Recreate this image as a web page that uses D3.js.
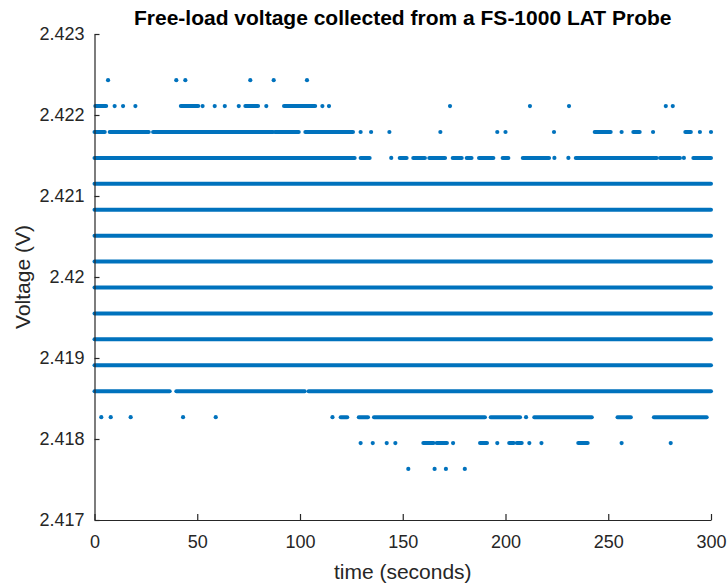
<!DOCTYPE html>
<html>
<head>
<meta charset="utf-8">
<script src="https://cdn.jsdelivr.net/npm/d3@7"></script>
<style>
  body { margin: 0; background: #fff; }
  text { font-family: "Liberation Sans", Arial, sans-serif; }
</style>
</head>
<body>
<div id="chart"></div>
<script>
// quantized voltage levels (V), lowest first
var levels = [2.41763, 2.41795, 2.41827, 2.41859, 2.41891, 2.41923, 2.41955, 2.41987,
              2.42019, 2.42051, 2.42083, 2.42115, 2.42147, 2.42179, 2.42211, 2.42243];

// time spans (seconds) where samples sit on each level; [t, t] is a lone sample
var runs = [
  [[152.7,152.7],[165.5,165.5],[171,171],[180.2,180.2]],
  [[129.5,129.5],[135.4,135.4],[142.2,142.2],[146.4,146.4],[160,165],[166.5,171.5],[174.5,174.5],
   [187.6,191],[196,196],[201.8,204],[205.5,207.9],[211.6,211.6],[217.5,217.5],[235.4,240],
   [256.5,256.5],[280.4,280.4]],
  [[3.3,3.3],[7.9,7.9],[17.6,17.6],[43.1,43.1],[59,59],[115.8,115.8],[119.8,123],[128.6,133.1],
   [136,190],[192.8,207.1],[210,210],[214,242],[254.5,261],[272.2,297.9]],
  [[0,36.6],[39.8,102.3],[104.2,300]],
  [[0,300]],
  [[0,300]],
  [[0,300]],
  [[0,300]],
  [[0,300]],
  [[0,300]],
  [[0,300]],
  [[0,300]],
  [[0,126.6],[129.5,133.9],[144.4,144.4],[148.5,151.9],[155.1,160.8],[162.9,170.6],[174.3,178.7],
   [181.1,183.5],[187.1,194.1],[198.6,201.4],[208.4,221.2],[223.8,223.8],[230.6,230.6],
   [234.2,273.6],[275.2,284.9],[286.8,286.8],[291.4,300]],
  [[0,5],[7.4,26.4],[28.5,86.9],[87.8,99.4],[102.6,125.8],[129.5,129.5],[134.6,134.6],
   [143.5,143.5],[168.3,168.3],[196,196],[200,200],[223.6,223.6],[243.4,251.2],[256.5,256.5],
   [262.2,265.3],[271.8,271.8],[287.5,290.2],[294.6,294.6],[300,300]],
  [[0.4,5.7],[9.8,9.8],[13.9,13.9],[19.9,19.9],[42,50.5],[52.6,52.6],[58.5,58.5],[63.4,63.4],
   [70.2,70.2],[73.4,79.6],[83.6,83.6],[92.2,107.4],[110.9,110.9],[114.1,114.1],[173,173],
   [211.9,211.9],[230.9,230.9],[278,278],[281.4,281.4]],
  [[6.6,6.6],[39.8,39.8],[44.2,44.2],[75.8,75.8],[87.2,87.2],[103.4,103.4]]
];

var xTicks = [0, 50, 100, 150, 200, 250, 300];
var yTicks = [2.417, 2.418, 2.419, 2.42, 2.421, 2.422, 2.423];

var svgWidth = 727, svgHeight = 586;
var margin = { top: 34, right: 16, bottom: 66, left: 94.5 };
var width = svgWidth - margin.left - margin.right;
var height = svgHeight - margin.top - margin.bottom;

var blue = "#0072BD";
var ink = "#262626";

var svg = d3.select("#chart").append("svg")
  .attr("width", svgWidth)
  .attr("height", svgHeight);

var g = svg.append("g")
  .attr("transform", `translate(${margin.left}, ${margin.top})`);

var x = d3.scaleLinear().domain([0, 300]).range([0, width]);
var y = d3.scaleLinear().domain([2.417, 2.423]).range([height, 0]);

// flatten runs into segments
var segs = [];
runs.forEach(function(list, i) {
  list.forEach(function(r) {
    segs.push({ v: levels[i], t0: r[0], t1: r[1] });
  });
});

g.selectAll(".run")
  .data(segs.filter(d => d.t1 > d.t0))
  .enter().append("line")
  .attr("class", "run")
  .attr("x1", d => x(d.t0))
  .attr("x2", d => x(d.t1))
  .attr("y1", d => y(d.v))
  .attr("y2", d => y(d.v))
  .attr("stroke", blue)
  .attr("stroke-width", 4)
  .attr("stroke-linecap", "round");

g.selectAll(".dot")
  .data(segs.filter(d => d.t1 === d.t0))
  .enter().append("circle")
  .attr("class", "dot")
  .attr("cx", d => x(d.t0))
  .attr("cy", d => y(d.v))
  .attr("r", 2.1)
  .attr("fill", blue);

// axes, MATLAB style ticks pointing inward
var xAxis = g.append("g")
  .attr("transform", `translate(0, ${height})`)
  .call(d3.axisBottom(x).tickValues(xTicks).tickSizeInner(-6).tickSizeOuter(0).tickPadding(15.5));

var yAxis = g.append("g")
  .call(d3.axisLeft(y).tickValues(yTicks).tickSizeInner(-5).tickSizeOuter(0).tickPadding(10)
    .tickFormat(d3.format(".4~f")));

[xAxis, yAxis].forEach(function(a) {
  a.select(".domain").attr("stroke", ink).attr("stroke-width", 1.2);
  a.selectAll(".tick line").attr("stroke", ink).attr("stroke-width", 1.2);
  a.selectAll(".tick text").attr("fill", ink).style("font-size", "18px");
});

// title
svg.append("text")
  .attr("x", margin.left + width / 2)
  .attr("y", 25)
  .attr("text-anchor", "middle")
  .attr("fill", "#000")
  .style("font-size", "21px")
  .style("font-weight", "bold")
  .text("Free-load voltage collected from a FS-1000 LAT Probe");

// axis labels
svg.append("text")
  .attr("x", margin.left + width / 2)
  .attr("y", 579)
  .attr("text-anchor", "middle")
  .attr("fill", ink)
  .style("font-size", "21px")
  .text("time (seconds)");

svg.append("text")
  .attr("transform", "translate(30, 277) rotate(-90)")
  .attr("text-anchor", "middle")
  .attr("fill", ink)
  .style("font-size", "21px")
  .text("Voltage (V)");
</script>
</body>
</html>
